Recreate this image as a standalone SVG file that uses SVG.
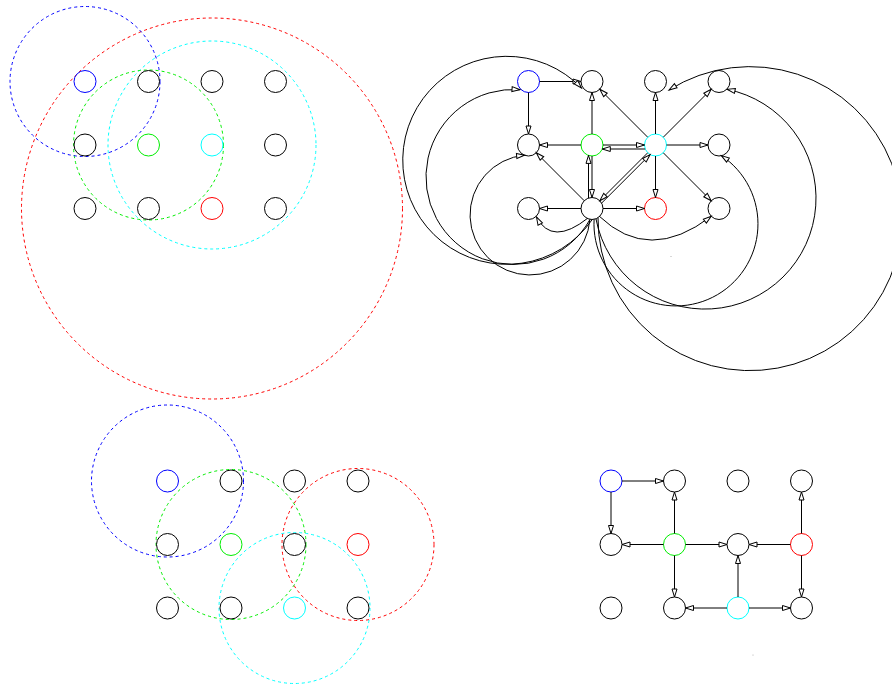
<svg xmlns="http://www.w3.org/2000/svg" width="892" height="686" viewBox="0 0 892 686">
<style>
.n{fill:none;stroke:#000;stroke-width:1}
.b{stroke:#0000ff}.g{stroke:#00ee00}.c{stroke:#00ffff}.r{stroke:#ff0000}
.d{fill:none;stroke-width:1;stroke-dasharray:3,3}
.e{fill:none;stroke:#000;stroke-width:1;marker-end:url(#ah)}
</style>
<defs>
<marker id="ah" markerUnits="userSpaceOnUse" markerWidth="10" markerHeight="7" refX="8" refY="2.5" orient="auto" overflow="visible">
<path d="M0,0 L8,2.5 L0,5 z" fill="#fff" stroke="#000" stroke-width="1"/>
</marker>
</defs>
<rect width="892" height="686" fill="#fff"/>

<!-- top-left panel -->
<g id="tl-ranges">
<circle class="d" cx="212" cy="208.5" r="190.5" stroke="#ff0000"/>
<circle class="d" cx="212" cy="145" r="104" stroke="#00ffff"/>
<circle class="d" cx="148.5" cy="145" r="75" stroke="#00ee00"/>
<circle class="d" cx="85" cy="81.5" r="75" stroke="#0000ff"/>
</g>
<g id="tl-nodes">
<g id="tl00"><circle class="n b" cx="85" cy="81.5" r="11"/></g>
<g id="tl01"><circle class="n" cx="148.5" cy="81.5" r="11"/></g>
<g id="tl02"><circle class="n" cx="212" cy="81.5" r="11"/></g>
<g id="tl03"><circle class="n" cx="275.5" cy="81.5" r="11"/></g>
<g id="tl10"><circle class="n" cx="85" cy="145" r="11"/></g>
<g id="tl11"><circle class="n g" cx="148.5" cy="145" r="11"/></g>
<g id="tl12"><circle class="n c" cx="212" cy="145" r="11"/></g>
<g id="tl13"><circle class="n" cx="275.5" cy="145" r="11"/></g>
<g id="tl20"><circle class="n" cx="85" cy="208.5" r="11"/></g>
<g id="tl21"><circle class="n" cx="148.5" cy="208.5" r="11"/></g>
<g id="tl22"><circle class="n r" cx="212" cy="208.5" r="11"/></g>
<g id="tl23"><circle class="n" cx="275.5" cy="208.5" r="11"/></g>
</g>

<!-- bottom-left panel -->
<g id="bl-ranges">
<circle class="d" cx="167.5" cy="481" r="76" stroke="#0000ff"/>
<circle class="d" cx="231" cy="544.5" r="75" stroke="#00ee00"/>
<circle class="d" cx="358" cy="544.5" r="76" stroke="#ff0000"/>
<circle class="d" cx="294.5" cy="608" r="75.5" stroke="#00ffff"/>
</g>
<g id="bl-nodes">
<g id="bl00"><circle class="n b" cx="167.5" cy="481" r="11"/></g>
<g id="bl01"><circle class="n" cx="231" cy="481" r="11"/></g>
<g id="bl02"><circle class="n" cx="294.5" cy="481" r="11"/></g>
<g id="bl03"><circle class="n" cx="358" cy="481" r="11"/></g>
<g id="bl10"><circle class="n" cx="167.5" cy="544.5" r="11"/></g>
<g id="bl11"><circle class="n g" cx="231" cy="544.5" r="11"/></g>
<g id="bl12"><circle class="n" cx="294.5" cy="544.5" r="11"/></g>
<g id="bl13"><circle class="n r" cx="358" cy="544.5" r="11"/></g>
<g id="bl20"><circle class="n" cx="167.5" cy="608" r="11"/></g>
<g id="bl21"><circle class="n" cx="231" cy="608" r="11"/></g>
<g id="bl22"><circle class="n c" cx="294.5" cy="608" r="11"/></g>
<g id="bl23"><circle class="n" cx="358" cy="608" r="11"/></g>
</g>

<!-- top-right panel -->
<g id="tr-nodes">
<g id="tr00"><circle class="n b" cx="528.5" cy="81.5" r="11"/></g>
<g id="tr01"><circle class="n" cx="592" cy="81.5" r="11"/></g>
<g id="tr02"><circle class="n" cx="655.5" cy="81.5" r="11"/></g>
<g id="tr03"><circle class="n" cx="719" cy="81.5" r="11"/></g>
<g id="tr10"><circle class="n" cx="528.5" cy="145" r="11"/></g>
<g id="tr11"><circle class="n g" cx="592" cy="145" r="11"/></g>
<g id="tr12"><circle class="n c" cx="655.5" cy="145" r="11"/></g>
<g id="tr13"><circle class="n" cx="719" cy="145" r="11"/></g>
<g id="tr20"><circle class="n" cx="528.5" cy="208.5" r="11"/></g>
<g id="tr21"><circle class="n" cx="592" cy="208.5" r="11"/></g>
<g id="tr22"><circle class="n r" cx="655.5" cy="208.5" r="11"/></g>
<g id="tr23"><circle class="n" cx="719" cy="208.5" r="11"/></g>
</g>
<g id="tr-edges">
<path class="e" d="M539.5,81.5 L581,81.5"/>
<path class="e" d="M528.5,92.5 L528.5,134"/>
<path class="e" d="M581,145 L539.5,145"/>
<path class="e" d="M592,134 L592,92.5"/>
<path class="e" d="M647.7,137.2 L599.8,89.3"/>
<path class="e" d="M655.5,134 L655.5,92.5"/>
<path class="e" d="M663.3,137.2 L711.2,89.3"/>
<path class="e" d="M666.5,145 L708,145"/>
<path class="e" d="M655.5,156 L655.5,197.5"/>
<path class="e" d="M663.3,152.8 L711.2,200.7"/>
<path class="e" d="M584.2,200.7 L536.3,152.8"/>
<path class="e" d="M581,208.5 L539.5,208.5"/>
<path class="e" d="M603,208.5 L644.5,208.5"/>
<path class="e" d="M603,145 L644.5,145"/>
<path class="e" d="M645.2,149 L602.3,149"/>
<path class="e" d="M588.5,198.1 L588.5,155.4"/>
<path class="e" d="M592,156 L592,197.5"/>
<path class="e" d="M601.6,203.1 L650.1,154.6"/>
<path class="e" d="M647.7,152.8 L599.8,200.7"/>
<path class="e" d="M588,218 Q552,246.5 536.5,217"/>
<path class="e" d="M599,216 Q649,264 711.2,216.3"/>
<path class="e" d="M589.9,219.4 A60,60 0 1 1 524.6,155.2"/>
<path class="e" d="M590,219.4 A87.5,87.5 0 1 1 520,89.7"/>
<path class="e" d="M592.2,219.6 A104,104 0 1 1 581.5,88"/>
<path class="e" d="M594.1,219.3 A82,82 0 1 0 721.3,155.6"/>
<path class="e" d="M596,219 A111,111 0 1 0 727.1,89.3"/>
<path class="e" d="M598,217.8 A152,152 0 1 0 669,90"/>
</g>

<!-- bottom-right panel -->
<g id="br-nodes">
<g id="br00"><circle class="n b" cx="611" cy="481" r="11"/></g>
<g id="br01"><circle class="n" cx="674.5" cy="481" r="11"/></g>
<g id="br02"><circle class="n" cx="738" cy="481" r="11"/></g>
<g id="br03"><circle class="n" cx="801.5" cy="481" r="11"/></g>
<g id="br10"><circle class="n" cx="611" cy="544.5" r="11"/></g>
<g id="br11"><circle class="n g" cx="674.5" cy="544.5" r="11"/></g>
<g id="br12"><circle class="n" cx="738" cy="544.5" r="11"/></g>
<g id="br13"><circle class="n r" cx="801.5" cy="544.5" r="11"/></g>
<g id="br20"><circle class="n" cx="611" cy="608" r="11"/></g>
<g id="br21"><circle class="n" cx="674.5" cy="608" r="11"/></g>
<g id="br22"><circle class="n c" cx="738" cy="608" r="11"/></g>
<g id="br23"><circle class="n" cx="801.5" cy="608" r="11"/></g>
</g>
<g id="br-edges">
<path class="e" d="M622,481 L663.5,481"/>
<path class="e" d="M611,492 L611,533.5"/>
<path class="e" d="M674.5,533.5 L674.5,492"/>
<path class="e" d="M663.5,544.5 L622,544.5"/>
<path class="e" d="M685.5,544.5 L727,544.5"/>
<path class="e" d="M674.5,555.5 L674.5,597"/>
<path class="e" d="M790.5,544.5 L749,544.5"/>
<path class="e" d="M801.5,533.5 L801.5,492"/>
<path class="e" d="M801.5,555.5 L801.5,597"/>
<path class="e" d="M738,597 L738,555.5"/>
<path class="e" d="M727,608 L685.5,608"/>
<path class="e" d="M749,608 L790.5,608"/>
</g>
<circle cx="671" cy="256.5" r="0.5" fill="#999"/>
<circle cx="753" cy="655" r="0.5" fill="#999"/>
</svg>
